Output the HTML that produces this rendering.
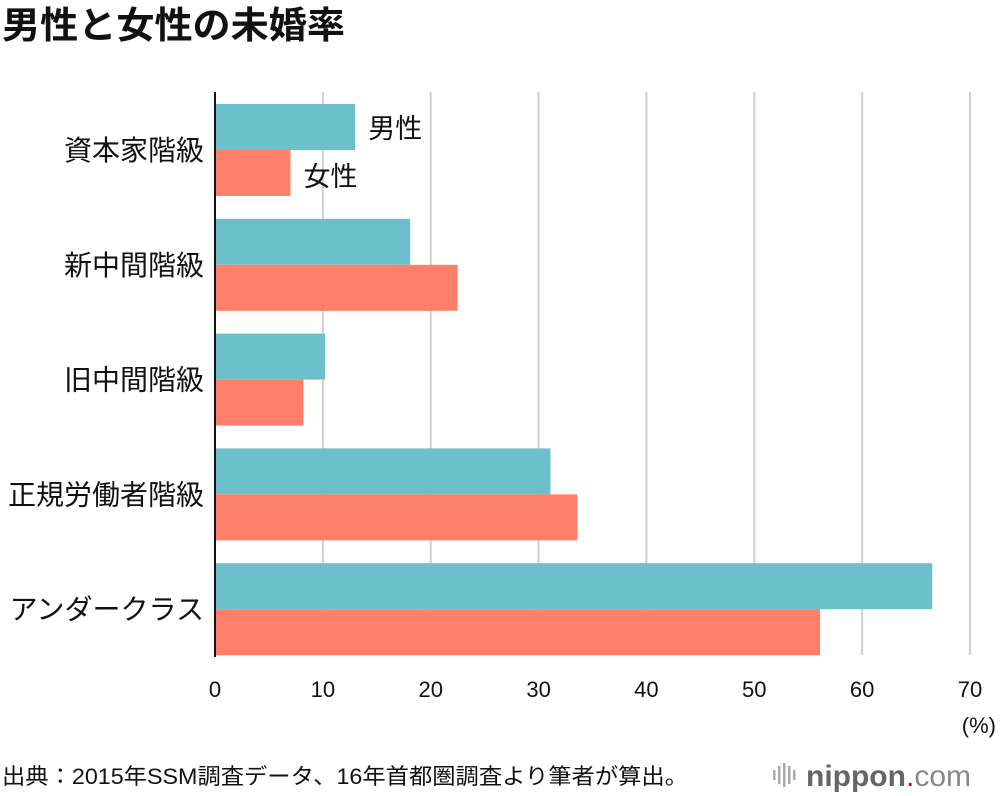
<!DOCTYPE html>
<html><head><meta charset="utf-8"><style>
body{margin:0;background:#fff;}
#wrap{position:relative;width:1000px;height:796px;font-family:"Liberation Sans","Noto Sans CJK JP",sans-serif;color:#111;overflow:hidden}
</style></head><body>
<div id="wrap">
<svg id="chart" width="1000" height="796"></svg>
</div>
<script>
const categories=["資本家階級","新中間階級","旧中間階級","正規労働者階級","アンダークラス"];
const maleValues=[13.0,18.1,10.2,31.1,66.5];
const femaleValues=[7.0,22.5,8.2,33.6,56.1];
const tickValues=[0,10,20,30,40,50,60,70];
const NS="http://www.w3.org/2000/svg";
const svg=document.getElementById('chart');
const x0=215,x1=970,xMax=70;
const xs=v=>x0+(x1-x0)*v/xMax;
const bandTop=104,bandStep=114.8,barH=46;
function mk(tag,attrs,text){const e=document.createElementNS(NS,tag);for(const k in attrs)e.setAttribute(k,attrs[k]);if(text!==undefined)e.textContent=text;svg.appendChild(e);return e;}
const F='"Liberation Sans","Noto Sans CJK JP",sans-serif';
let t=mk('text',{x:2,y:38,'font-size':37,'font-weight':'bold','font-family':F,fill:'#111',textLength:343,lengthAdjust:'spacingAndGlyphs'},'男性と女性の未婚率');


tickValues.forEach(v=>{
 if(v>0){const g=mk('line',{x1:xs(v),x2:xs(v),y1:92,y2:655,stroke:'#cfcfcf','stroke-width':2});
 
 }
 const l=mk('text',{x:xs(v),y:697,'font-size':22,'text-anchor':'middle','font-family':F,fill:'#111'},String(v));
 
 
});
categories.forEach((c,i)=>{
 const y=bandTop+i*bandStep;
 const m=mk('rect',{x:x0,y:y,width:xs(maleValues[i])-x0,height:barH,fill:'#6bc0cc'});
 
 
 const f=mk('rect',{x:x0,y:y+barH,width:xs(femaleValues[i])-x0,height:barH,fill:'#ff7f6b'});
 
 
 const l=mk('text',{x:204,y:y+barH+10,'font-size':28,'text-anchor':'end','font-family':F,fill:'#111'},c);
 
 
});
const ax=mk('line',{x1:x0,x2:x0,y1:92,y2:657,stroke:'#111','stroke-width':2});


let lm=mk('text',{x:xs(maleValues[0])+13,y:bandTop+34,'font-size':27,'font-family':F,fill:'#111'},'男性');


let lf=mk('text',{x:xs(femaleValues[0])+13,y:bandTop+barH+36,'font-size':27,'font-family':F,fill:'#111'},'女性');


let u=mk('text',{x:996,y:733,'font-size':22,'text-anchor':'end','font-family':F,fill:'#111'},'(%)');


let s=mk('text',{x:2,y:784,'font-size':22,'font-family':F,fill:'#111',textLength:686,lengthAdjust:'spacingAndGlyphs'},'出典：2015年SSM調査データ、16年首都圏調査より筆者が算出。');


[0,1,2,3,4].forEach(k=>{const h=[10,18,24,18,10][k];const b=mk('rect',{x:773+k*5,y:775-h/2,width:2.5,height:h,fill:'#aaa'});
 
 });
let lg=mk('text',{x:806,y:786,'font-size':30,'font-family':F,fill:'#666'});


const ts1=document.createElementNS(NS,'tspan');ts1.setAttribute('font-weight','bold');ts1.textContent='nippon';lg.appendChild(ts1);
const ts2=document.createElementNS(NS,'tspan');ts2.setAttribute('fill','#e60012');ts2.textContent='.';lg.appendChild(ts2);
const ts3=document.createElementNS(NS,'tspan');ts3.setAttribute('fill','#888');ts3.textContent='com';lg.appendChild(ts3);
</script>
</body></html>
